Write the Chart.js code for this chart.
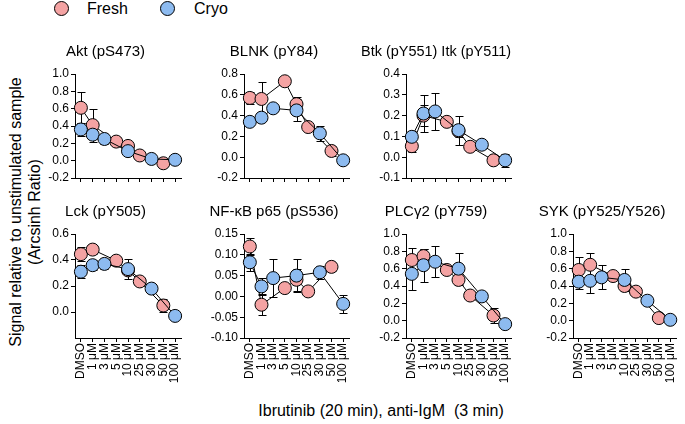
<!DOCTYPE html>
<html>
<head>
<meta charset="utf-8">
<script src="https://cdn.jsdelivr.net/npm/chart.js@4.4.1/dist/chart.umd.min.js"></script>
<style>
  body { margin: 0; background: #fff; font-family: "Liberation Sans", Arial, sans-serif; }
  #page { position: relative; width: 685px; height: 424px; overflow: hidden; background: #fff; }
  canvas { position: absolute; }
  .lbl { position: absolute; white-space: pre; color: #000; }
  .dot { position: absolute; width: 13px; height: 13px; border: 1px solid #000; border-radius: 50%; }
</style>
</head>
<body>
<div id="page">
  <div class="dot" style="left:54px;top:1px;background:#F4A3A3"></div>
  <div class="lbl" style="left:87px;top:0px;font-size:16px;line-height:18px">Fresh</div>
  <div class="dot" style="left:160px;top:1px;background:#8DBBF0"></div>
  <div class="lbl" style="left:194px;top:0px;font-size:16px;line-height:18px">Cryo</div>

  <div class="lbl" style="left:25px;top:212px;font-size:16px;line-height:19px;text-align:center;transform:translate(-50%,-50%) rotate(-90deg)">Signal relative to unstimulated sample
(Arcsinh Ratio)</div>
  <div class="lbl" style="left:381px;top:411px;font-size:16px;line-height:18px;transform:translate(-50%,-50%)">Ibrutinib (20 min), anti-IgM  (3 min)</div>

  <canvas id="akt"></canvas>
  <canvas id="blnk"></canvas>
  <canvas id="btk"></canvas>
  <canvas id="lck"></canvas>
  <canvas id="nfkb"></canvas>
  <canvas id="plc"></canvas>
  <canvas id="syk"></canvas>
</div>
<script>
// doses on the x axis (Fresh and Cryo were not run at every dose)
const doses = ['DMSO', '1 μM', '3 μM', '5 μM', '10 μM', '25 μM', '30 μM', '50 μM', '100 μM'];

const aktFresh    = [0.61, 0.41, null, 0.22, 0.17, 0.06, null, -0.03, null];
const aktFreshErr = [0.18, 0.19, null, 0.03, 0.04, 0.03, null, 0.02, null];
const aktCryo     = [0.36, 0.30, 0.25, null, 0.11, null, 0.02, null, 0.01];
const aktCryoErr  = [0.07, 0.05, 0.06, null, 0.04, null, 0.02, null, 0.02];

const blnkFresh    = [0.57, 0.56, null, 0.73, 0.51, 0.29, null, 0.06, null];
const blnkFreshErr = [0.06, 0.16, null, 0.03, 0.07, 0.03, null, 0.045, null];
const blnkCryo     = [0.34, 0.38, 0.47, null, 0.45, null, 0.23, null, -0.03];
const blnkCryoErr  = [0.03, 0.03, 0.03, null, 0.105, null, 0.07, null, 0.02];

const btkFresh    = [0.053, 0.20, null, 0.17, 0.125, 0.05, null, -0.015, null];
const btkFreshErr = [0.03, 0.05, null, 0.02, 0.03, 0.02, null, 0.01, null];
const btkCryo     = [0.098, 0.21, 0.22, null, 0.13, null, 0.06, null, -0.015];
const btkCryoErr  = [0.03, 0.09, 0.09, null, 0.07, null, 0.02, null, 0.03];

const lckFresh    = [0.445, 0.48, null, 0.395, 0.32, 0.235, null, 0.05, null];
const lckFreshErr = [0.055, 0.03, null, 0.03, 0.03, 0.02, null, 0.05, null];
const lckCryo     = [0.31, 0.36, 0.37, null, 0.33, null, 0.18, null, -0.03];
const lckCryoErr  = [0.05, 0.04, 0.04, null, 0.075, null, 0.02, null, 0.02];

const nfkbFresh    = [0.12, -0.02, null, 0.02, 0.04, 0.012, null, 0.071, null];
const nfkbFreshErr = [0.02, 0.025, null, 0.01, 0.026, 0.01, null, 0.01, null];
const nfkbCryo     = [0.082, 0.024, 0.044, null, 0.05, null, 0.058, null, -0.018];
const nfkbCryoErr  = [0.02, 0.02, 0.045, null, 0.04, null, 0.015, null, 0.022];

const plcFresh    = [0.70, 0.745, null, 0.585, 0.47, 0.29, null, 0.06, null];
const plcFreshErr = [0.135, 0.085, null, 0.03, 0.05, 0.02, null, 0.086, null];
const plcCryo     = [0.54, 0.64, 0.68, null, 0.60, null, 0.28, null, -0.04];
const plcCryoErr  = [0.19, 0.19, 0.18, null, 0.185, null, 0.03, null, 0.02];

const sykFresh    = [0.585, 0.645, null, 0.515, 0.40, 0.335, null, 0.03, null];
const sykFreshErr = [0.145, 0.13, null, 0.03, 0.045, 0.03, null, 0.02, null];
const sykCryo     = [0.45, 0.46, 0.50, null, 0.47, null, 0.23, null, 0.01];
const sykCryoErr  = [0.09, 0.14, 0.14, null, 0.13, null, 0.03, null, 0.02];

Chart.defaults.font.family = '"Liberation Sans", Arial, sans-serif';
Chart.defaults.color = '#000';

// draws the +/- error bars behind the points
const errorBars = {
  id: 'errorBars',
  beforeDatasetsDraw(chart) {
    const ctx = chart.ctx, x = chart.scales.x, y = chart.scales.y;
    ctx.save();
    ctx.strokeStyle = '#000';
    ctx.lineWidth = 1;
    chart.data.datasets.forEach(ds => {
      ds.data.forEach((v, i) => {
        const e = ds.errors[i];
        if (v == null || !e) return;
        const px = Math.round(x.getPixelForValue(i)) + 0.5;
        const top = Math.round(y.getPixelForValue(v + e)) + 0.5;
        const bot = Math.round(y.getPixelForValue(v - e)) + 0.5;
        ctx.beginPath();
        ctx.moveTo(px, top); ctx.lineTo(px, bot);
        ctx.moveTo(px - 4, top); ctx.lineTo(px + 4, top);
        ctx.moveTo(px - 4, bot); ctx.lineTo(px + 4, bot);
        ctx.stroke();
      });
    });
    ctx.restore();
  }
};

function series(label, data, errors, color) {
  return {
    label: label,
    data: data,
    errors: errors,
    borderColor: '#000',
    borderWidth: 1,
    pointRadius: 6.5,
    pointBorderWidth: 1,
    pointBorderColor: '#000',
    pointBackgroundColor: color,
    spanGaps: true,
    tension: 0,
    clip: false
  };
}

// box: l/t = plot area left/top, w/h = plot size, c = title centre
function panel(id, box, title, yMin, yMax, yStep, dec, fresh, freshErr, cryo, cryoErr, showLabels, hideMin) {
  const cv = document.getElementById(id);
  const left = box.l - 45, top = box.t - 35;
  const width = 2 * (box.c - left);
  const xh = showLabels ? 60 : 12;
  cv.width = width;
  cv.height = 35 + box.h + xh;
  cv.style.left = left + 'px';
  cv.style.top = top + 'px';

  const axisGrid = {display: true, drawOnChartArea: false, drawTicks: true, tickLength: 4, color: '#000'};

  new Chart(cv, {
    type: 'line',
    data: {
      labels: doses,
      datasets: [
        series('Cryo', cryo, cryoErr, '#8DBBF0'),
        series('Fresh', fresh, freshErr, '#F4A3A3')
      ]
    },
    options: {
      responsive: false,
      animation: false,
      devicePixelRatio: 1,
      events: [],
      layout: {padding: {left: 0, top: 0, bottom: 0, right: width - 45 - box.w}},
      plugins: {
        legend: {display: false},
        tooltip: {enabled: false},
        title: {
          display: true,
          text: title,
          color: '#000',
          font: {size: 15, weight: 'normal'},
          padding: {top: 4, bottom: 13}
        }
      },
      scales: {
        x: {
          offset: true,
          grid: axisGrid,
          border: {color: '#000', width: 1},
          ticks: {display: showLabels, autoSkip: false, minRotation: 90, maxRotation: 90, padding: 1, font: {size: 12}},
          afterFit: s => { s.height = xh; }
        },
        y: {
          min: yMin,
          max: yMax,
          grid: axisGrid,
          border: {color: '#000', width: 1},
          ticks: {
            stepSize: yStep,
            autoSkip: false,
            padding: 2,
            font: {size: 12},
            callback: v => {
              if (hideMin && Math.abs(v - yMin) < 1e-9) return null;
              const r = Math.round(v / yStep) * yStep;
              return (Math.abs(r) < 1e-9 ? 0 : r).toFixed(dec);
            }
          },
          afterFit: s => { s.width = 45; }
        }
      }
    },
    plugins: [errorBars]
  });
}

panel('akt',  {l: 75,  t: 74, w: 106, h: 104, c: 127}, 'Akt (pS473)', -0.2, 1.0, 0.2, 1, aktFresh, aktFreshErr, aktCryo, aktCryoErr, false);
panel('blnk', {l: 244, t: 74, w: 105, h: 104, c: 297}, 'BLNK (pY84)', -0.2, 0.8, 0.2, 1, blnkFresh, blnkFreshErr, blnkCryo, blnkCryoErr, false);
panel('btk',  {l: 406, t: 74, w: 105, h: 104, c: 458}, 'Btk (pY551) Itk (pY511)', -0.1, 0.4, 0.1, 1, btkFresh, btkFreshErr, btkCryo, btkCryoErr, false);

panel('lck',  {l: 75,  t: 234, w: 106, h: 104, c: 127}, 'Lck (pY505)', -0.2, 0.6, 0.2, 1, lckFresh, lckFreshErr, lckCryo, lckCryoErr, true, true);
panel('nfkb', {l: 244, t: 234, w: 105, h: 104, c: 297}, 'NF-κB p65 (pS536)', -0.1, 0.15, 0.05, 2, nfkbFresh, nfkbFreshErr, nfkbCryo, nfkbCryoErr, true);
panel('plc',  {l: 406, t: 234, w: 105, h: 104, c: 457}, 'PLCγ2 (pY759)', -0.2, 1.0, 0.2, 1, plcFresh, plcFreshErr, plcCryo, plcCryoErr, true);
panel('syk',  {l: 573, t: 234, w: 103, h: 104, c: 618}, 'SYK (pY525/Y526)', -0.2, 1.0, 0.2, 1, sykFresh, sykFreshErr, sykCryo, sykCryoErr, true);
</script>
</body>
</html>
